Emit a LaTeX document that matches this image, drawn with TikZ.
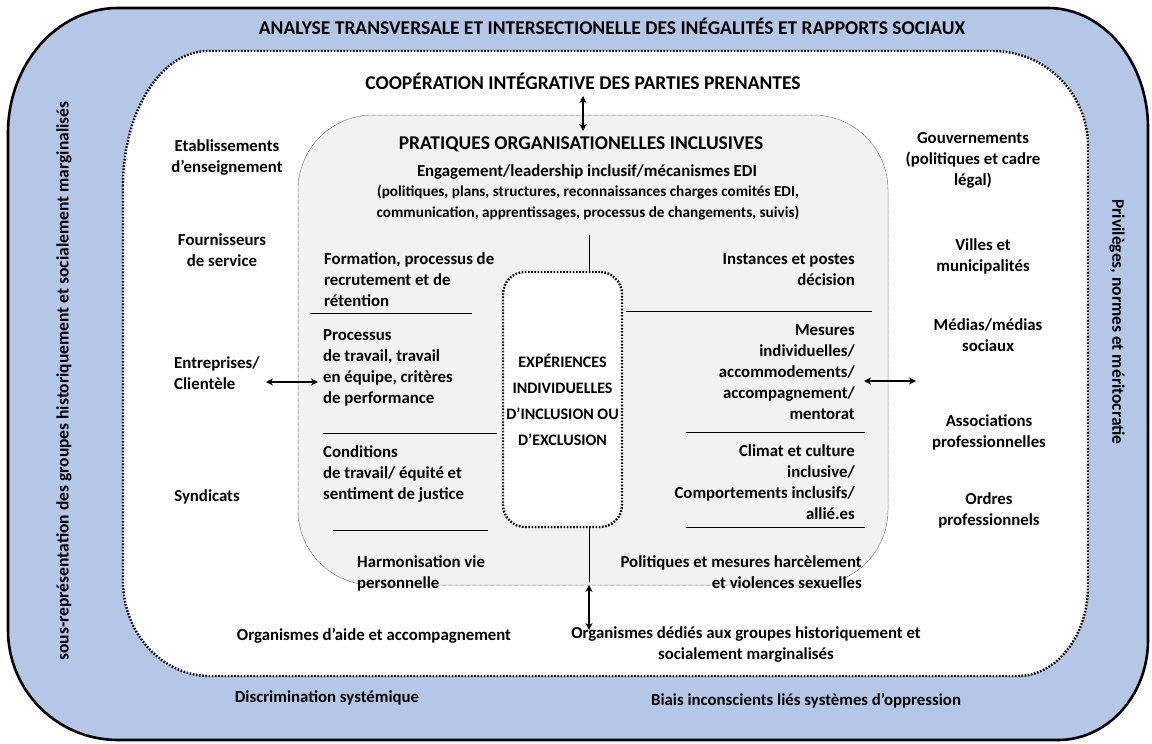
\documentclass[tikz,border=0pt]{standalone}
\usepackage{fontspec}
\setmainfont{Carlito}
\usetikzlibrary{arrows.meta}
\definecolor{bandblue}{HTML}{B4C7E7}
\definecolor{boxgray}{HTML}{F2F2F2}
\begin{document}
\begin{tikzpicture}[x=1pt,y=-1pt,
  txt/.style={inner sep=0pt, align=center, font=\fontsize{16.8}{21}\selectfont\bfseries},
  big/.style={inner sep=0pt, align=center, font=\fontsize{19.5}{21}\selectfont\bfseries},
  small/.style={inner sep=0pt, align=center, font=\fontsize{15.2}{21}\selectfont\bfseries},
  thickdots/.style={line width=2.4pt, dash pattern=on 1.6pt off 1.6pt},
  sep/.style={line width=0.8pt},
  dbl/.style={{Stealth[length=7pt,width=7pt]}-{Stealth[length=7pt,width=7pt]}, line width=1.8pt}
]
\useasboundingbox (0,0) rectangle (1152,744);
% outer band
\path[draw=black, line width=2.6pt, fill=bandblue]
  (8,133) arc[start angle=180,end angle=270,x radius=110,y radius=125]
  -- (1048,8) arc[start angle=270,end angle=360,x radius=100,y radius=120]
  -- (1148,640) arc[start angle=0,end angle=90,x radius=90,y radius=100]
  -- (118,740) arc[start angle=90,end angle=180,x radius=110,y radius=110] -- cycle;
% white dotted area
\path[draw=black, thickdots, fill=white]
  (123,186) arc[start angle=180,end angle=270,x radius=85,y radius=135]
  -- (993,51) arc[start angle=270,end angle=360,x radius=95,y radius=95]
  -- (1088,586) arc[start angle=0,end angle=90,x radius=70,y radius=90]
  -- (210,676) arc[start angle=90,end angle=180,x radius=87,y radius=95] -- cycle;
% gray box
\node[fill=boxgray, draw=black!75, line width=0.5pt, dash pattern=on 0.6pt off 0.6pt,
  rounded corners=75, minimum width=590, minimum height=470, inner sep=0pt] (pbox) at (593,350) {};
% center box
\node[txt, font=\fontsize{16}{26}\selectfont\bfseries, draw=black, thickdots, fill=white,
  rounded corners=22, minimum width=119, minimum height=255] (exp) at (562.5,399.5)
  {EXPÉRIENCES\\INDIVIDUELLES\\D’INCLUSION OU\\D’EXCLUSION};

% band texts
\node[big] (title) at (612,26) {ANALYSE TRANSVERSALE ET INTERSECTIONELLE DES INÉGALITÉS ET RAPPORTS SOCIAUX};
\node[txt, font=\fontsize{17.5}{21}\selectfont\bfseries, rotate=90] (sous) at (64,381) {sous-représentation des groupes historiquement et socialement marginalisés};
\node[txt, font=\fontsize{17.5}{21}\selectfont\bfseries, rotate=-90] (priv) at (1117,322) {Privilèges, normes et méritocratie};
\node[txt] (discr) at (327,698) {Discrimination systémique};
\node[txt] (biais) at (806,701) {Biais inconscients liés systèmes d’oppression};

% stakeholders
\node[big] (coop) at (583,81) {COOPÉRATION INTÉGRATIVE DES PARTIES PRENANTES};
\node[txt] (etab) at (227,158) {Etablissements\\d’enseignement};
\node[txt] (four) at (222,250) {Fournisseurs\\de service};
\node[txt, anchor=west, align=left] (entr) at (174,373) {Entreprises/\\Clientèle};
\node[txt] (synd) at (207,497) {Syndicats};
\node[txt] (gouv) at (973,160) {Gouvernements\\(politiques et cadre\\légal)};
\node[txt] (vill) at (983,256) {Villes et\\municipalités};
\node[txt] (medi) at (988,335) {Médias/médias\\sociaux};
\node[txt] (asso) at (989,432) {Associations\\professionnelles};
\node[txt] (ordr) at (989,510) {Ordres\\professionnels};
\node[txt] (orga) at (374,636) {Organismes d’aide et accompagnement};
\node[txt] (orgd) at (746,645) {Organismes dédiés aux groupes historiquement et\\socialement marginalisés};

% practices
\node[big] (prat) at (581,144) {PRATIQUES ORGANISATIONELLES INCLUSIVES};
\node[txt] (enga) at (587,172) {Engagement/leadership inclusif/mécanismes EDI};
\node[small] (poli) at (588,203) {(politiques, plans, structures, reconnaissances charges comités EDI,\\communication, apprentissages, processus de changements, suivis)};
\node[txt, anchor=west, align=left] (form) at (324,280) {Formation, processus de\\recrutement et de\\rétention};
\node[txt, anchor=west, align=left] (proc) at (323,368) {Processus\\de travail, travail\\en équipe, critères\\de performance};
\node[txt, anchor=west, align=left] (cond) at (323,474) {Conditions\\de travail/ équité et\\sentiment de justice};
\node[txt, anchor=west, align=left] (harm) at (357,573) {Harmonisation vie\\personnelle};
\node[txt, anchor=east, align=right] (inst) at (855,270) {Instances et postes\\décision};
\node[txt, anchor=east, align=right] (mesu) at (855,372) {Mesures\\individuelles/\\accommodements/\\accompagnement/\\mentorat};
\node[txt, anchor=east, align=right] (clim) at (855,482) {Climat et culture\\inclusive/\\Comportements inclusifs/\\allié.es};
\node[txt, anchor=east, align=right] (harc) at (862,572) {Politiques et mesures harcèlement\\et violences sexuelles};

% separators
\draw[sep] (310,313) coordinate (s1a) -- (472,313) coordinate (s1b);
\draw[sep] (323,433) coordinate (s2a) -- (497,433) coordinate (s2b);
\draw[sep] (333,530) coordinate (s3a) -- (488,530) coordinate (s3b);
\draw[sep] (626,311) coordinate (s4a) -- (872,311) coordinate (s4b);
\draw[sep] (686,432) coordinate (s5a) -- (865,432) coordinate (s5b);
\draw[sep] (686,527) coordinate (s6a) -- (865,527) coordinate (s6b);
\coordinate (vt) at (589,235);
\coordinate (vb) at (589,582);
\draw[sep] (vt) -- (exp.north -| vt);
\draw[sep] (exp.south -| vb) -- (vb);

% arrows
\coordinate (a1) at (583,96);  \coordinate (a2) at (583,131);
\coordinate (a3) at (589,585); \coordinate (a4) at (589,630);
\coordinate (a5) at (266,382); \coordinate (a6) at (318,382);
\coordinate (a7) at (864,381); \coordinate (a8) at (916,381);
\draw[dbl] (a1) -- (a2);
\draw[dbl] (a3) -- (a4);
\draw[dbl] (a5) -- (a6);
\draw[dbl] (a7) -- (a8);
\end{tikzpicture}
\end{document}
